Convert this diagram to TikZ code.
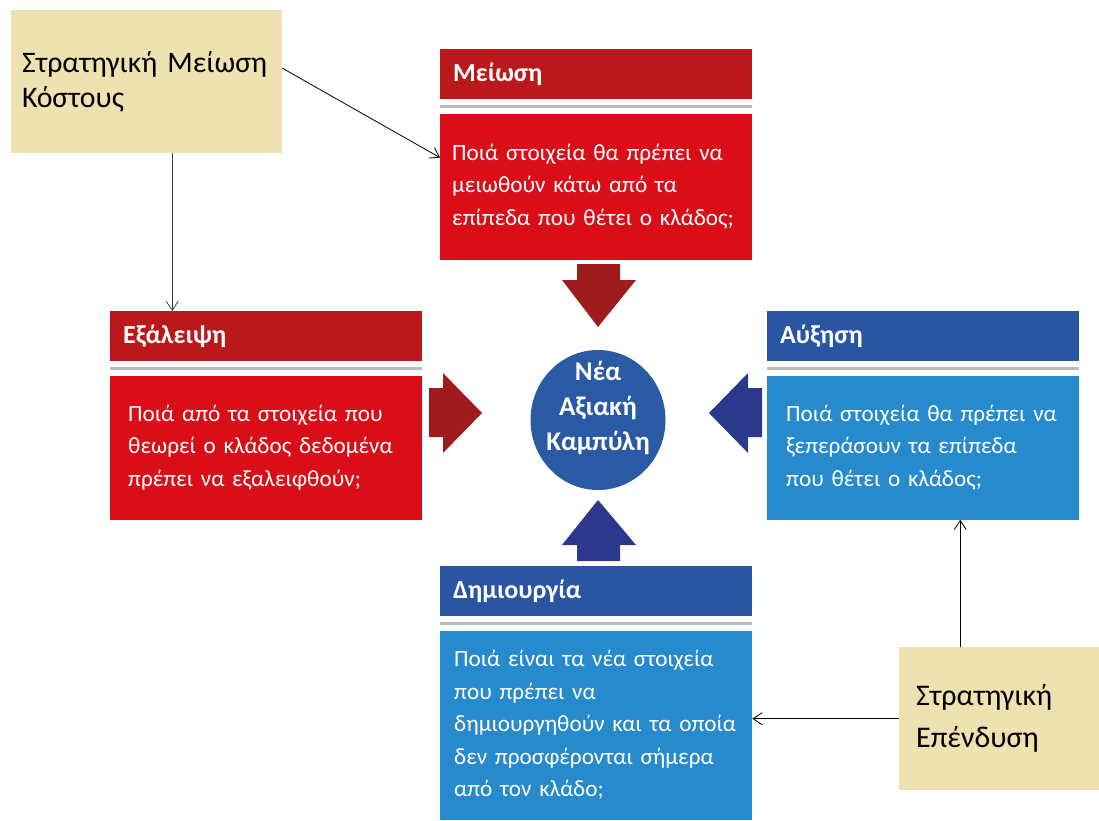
\documentclass[tikz,border=0pt]{standalone}
\usepackage{fontspec}
\setmainfont{Carlito}
\usetikzlibrary{arrows.meta,positioning,shapes.geometric}
\definecolor{hdrred}{RGB}{186,24,26}
\definecolor{bodyred}{RGB}{217,14,24}
\definecolor{arrred}{RGB}{158,27,30}
\definecolor{hdrblue}{RGB}{42,85,163}
\definecolor{bodyblue}{RGB}{38,138,204}
\definecolor{arrblue}{RGB}{44,56,140}
\definecolor{circblue}{RGB}{43,90,165}
\definecolor{tanfill}{RGB}{238,226,176}
\definecolor{sepgray}{RGB}{187,187,187}

\begin{document}
\begin{tikzpicture}[
  x=1pt, y=-1pt,
  node distance=14pt,
  hdr/.style={anchor=north west, minimum width=312, minimum height=50,
    text width=286, inner xsep=13, inner ysep=0, align=left, text=white,
    font=\fontsize{26}{30}\selectfont\bfseries},
  body/.style={minimum width=312, inner ysep=0, align=left, text=white,
    font=\fontsize{23.2}{32.5}\selectfont},
  tanbox/.style={fill=tanfill, anchor=north west, align=left, inner ysep=0,
    text=black},
  sepline/.style={draw=sepgray, line width=3pt},
  core/.style={ellipse, fill=circblue, minimum width=135, minimum height=140,
    inner sep=0},
  coretext/.style={align=center, text=white, inner sep=0, yshift=12pt,
    font=\fontsize{27}{35}\selectfont\bfseries},
  link/.style={-{Straight Barb[length=9pt,width=12pt]}, line width=0.8pt},
  redarr/.style={fill=arrred},
  bluearr/.style={fill=arrblue}
]
\useasboundingbox (0,0) rectangle (1099,820);

% four boxes round the centre
\node[hdr, fill=hdrred] (mhdr) at (440,49) {Μείωση};
\node[body, fill=bodyred, below=of mhdr, minimum height=146,
  inner xsep=12, text width=288] (mbody)
  {\mbox{Ποιά στοιχεία θα πρέπει να}\\\mbox{μειωθούν κάτω από τα}\\\mbox{επίπεδα που θέτει ο κλάδος;}};
\draw[sepline] ([yshift=-7pt]mhdr.south west) -- ([yshift=-7pt]mhdr.south east);

\node[hdr, fill=hdrred] (ehdr) at (110,311) {Εξάλειψη};
\node[body, fill=bodyred, below=of ehdr, minimum height=144,
  inner xsep=18, text width=276] (ebody)
  {\mbox{Ποιά από τα στοιχεία που}\\\mbox{θεωρεί ο κλάδος δεδομένα}\\\mbox{πρέπει να εξαλειφθούν;}};
\draw[sepline] ([yshift=-7pt]ehdr.south west) -- ([yshift=-7pt]ehdr.south east);

\node[hdr, fill=hdrblue] (ahdr) at (767,311) {Αύξηση};
\node[body, fill=bodyblue, below=of ahdr, minimum height=144,
  inner xsep=19, text width=274] (abody)
  {\mbox{Ποιά στοιχεία θα πρέπει να}\\\mbox{ξεπεράσουν τα επίπεδα}\\\mbox{που θέτει ο κλάδος;}};
\draw[sepline] ([yshift=-7pt]ahdr.south west) -- ([yshift=-7pt]ahdr.south east);

\node[hdr, fill=hdrblue] (dhdr) at (440,566) {Δημιουργία};
\node[body, fill=bodyblue, below=of dhdr, minimum height=189,
  inner xsep=14, text width=284] (dbody)
  {\mbox{Ποιά είναι τα νέα στοιχεία}\\\mbox{που πρέπει να}\\\mbox{δημιουργηθούν και τα οποία}\\\mbox{δεν προσφέρονται σήμερα}\\\mbox{από τον κλάδο;}};
\draw[sepline] ([yshift=-7pt]dhdr.south west) -- ([yshift=-7pt]dhdr.south east);

% centre
\node[core, label={[coretext]center:{Νέα\\Αξιακή\\Καμπύλη}}] (curve) at (598,420) {};

% block arrows
\fill[redarr] (577,264) -- (620,264) -- (620,280) -- (636,280) -- (598,327)
  -- (562,280) -- (577,280) -- cycle;
\fill[redarr] (429,388) -- (443,388) -- (443,373) -- (482,413) -- (443,453)
  -- (443,437) -- (429,437) -- cycle;
\fill[bluearr] (762,388) -- (748,388) -- (748,373) -- (709,413) -- (748,453)
  -- (748,437) -- (762,437) -- cycle;
\fill[bluearr] (577,561) -- (620,561) -- (620,545) -- (636,545) -- (598,500)
  -- (562,545) -- (577,545) -- cycle;

% strategy notes
\node[tanbox, minimum width=271, minimum height=143, text width=249,
  inner xsep=11, font=\fontsize{29.8}{35}\selectfont] (cut) at (11,10)
  {\mbox{Στρατηγική Μείωση}\\Κόστους};
\node[tanbox, minimum width=200, minimum height=143, text width=166,
  inner xsep=17, font=\fontsize{30}{42}\selectfont] (invest) at (899,647)
  {Στρατηγική\\Επένδυση};

\draw[link] ([yshift=13.5pt]cut.east) -- ([yshift=29pt]mbody.west);
\draw[link, black!75] ([xshift=25.5pt]cut.south) -- ([xshift=25.5pt]cut.south |- ehdr.north);
\draw[link] ([xshift=-39pt]invest.north) -- ([xshift=-39pt]invest.north |- abody.south);
\draw[link] (invest.west) -- (invest.west -| dbody.east);
\end{tikzpicture}
\end{document}
